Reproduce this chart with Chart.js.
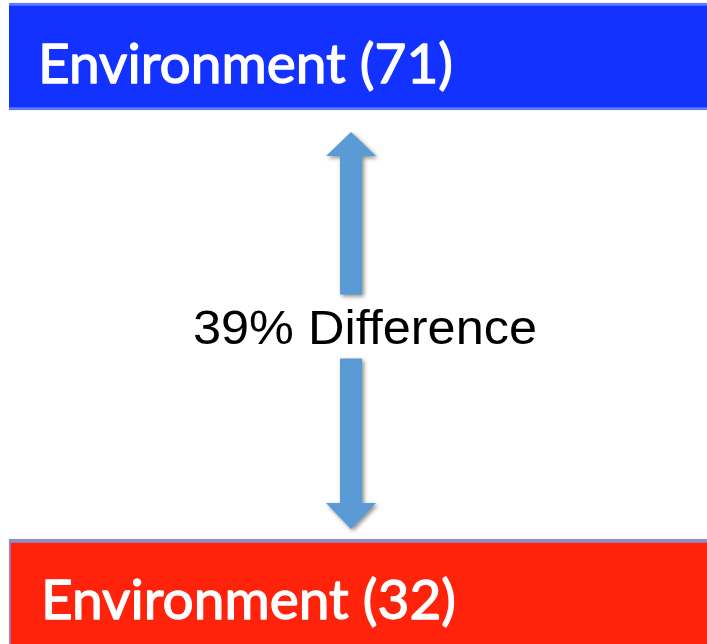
<!DOCTYPE html>
<html>
<head>
<meta charset="utf-8">
<script src="https://cdn.jsdelivr.net/npm/chart.js@4.4.1/dist/chart.umd.min.js"></script>
<style>
  html, body { margin: 0; padding: 0; background: #fff; }
  #wrap { width: 707px; height: 644px; }
</style>
</head>
<body>
<div id="wrap"><canvas id="myChart" width="707" height="644"></canvas></div>
<script>
// data
const categories = ['Environment', 'Environment'];
const scores = [71, 32];
const differenceLabel = '39% Difference';

// colours
const barColors = ['#1432FF', '#FF230C'];
const edgeColors = ['#5C7BFF', '#8E8FC6'];
const arrowColor = '#5B9BD5';

// rows: top bar, gap with the arrow, bottom bar
const rowLabels = [
  categories[0] + ' (' + scores[0] + ')',
  differenceLabel,
  categories[1] + ' (' + scores[1] + ')'
];

// white text inside each bar
const barLabels = {
  id: 'barLabels',
  afterDatasetsDraw(chart) {
    const ctx = chart.ctx;
    const meta = chart.getDatasetMeta(0);
    ctx.save();
    ctx.fillStyle = '#fff';
    ctx.strokeStyle = '#fff';
    ctx.lineWidth = 1.3;
    ctx.lineJoin = 'round';
    ctx.font = '55px Lato, "Open Sans", sans-serif';
    ctx.textBaseline = 'alphabetic';
    [0, 2].forEach(i => {
      const el = meta.data[i];
      const x = el.base + 29 + (i === 2 ? 3 : 0), y = el.y + 26;
      ctx.fillText(rowLabels[i], x, y);
      ctx.strokeText(rowLabels[i], x, y);
    });
    ctx.restore();
  }
};

// double arrow with the difference text in between
const differenceArrow = {
  id: 'differenceArrow',
  afterDatasetsDraw(chart) {
    const ctx = chart.ctx;
    const meta = chart.getDatasetMeta(0);
    const area = chart.chartArea;
    const top = meta.data[0], bot = meta.data[2];
    const topEdge = top.y + top.height / 2;
    const botEdge = bot.y - bot.height / 2;
    const midY = chart.scales.y.getPixelForValue(1);
    const cx = (area.left + area.right) / 2 - 7;
    const headW = 25, shaftW = 11;

    ctx.save();
    ctx.fillStyle = arrowColor;
    ctx.shadowColor = 'rgba(0,0,0,0.45)';
    ctx.shadowBlur = 4;
    ctx.shadowOffsetX = 2;
    ctx.shadowOffsetY = 2;

    // up arrow
    let tip = topEdge + 22, base = tip + 24, end = midY - 30;
    ctx.beginPath();
    ctx.moveTo(cx, tip);
    ctx.lineTo(cx + headW, base);
    ctx.lineTo(cx + shaftW, base);
    ctx.lineTo(cx + shaftW, end);
    ctx.lineTo(cx - shaftW, end);
    ctx.lineTo(cx - shaftW, base);
    ctx.lineTo(cx - headW, base);
    ctx.closePath();
    ctx.fill();

    // down arrow
    tip = botEdge - 10; base = tip - 26; end = midY + 34;
    ctx.beginPath();
    ctx.moveTo(cx, tip);
    ctx.lineTo(cx + headW, base);
    ctx.lineTo(cx + shaftW, base);
    ctx.lineTo(cx + shaftW, end);
    ctx.lineTo(cx - shaftW, end);
    ctx.lineTo(cx - shaftW, base);
    ctx.lineTo(cx - headW, base);
    ctx.closePath();
    ctx.fill();
    ctx.restore();

    // text
    ctx.save();
    ctx.fillStyle = '#000';
    ctx.font = '48px "Liberation Sans", Arial, sans-serif';
    ctx.textBaseline = 'alphabetic';
    ctx.textAlign = 'center';
    const w = ctx.measureText(differenceLabel).width;
    const sx = 344 / w;
    ctx.translate(cx + 14, midY + 19);
    ctx.scale(sx, 1);
    ctx.fillText(differenceLabel, 0, 0);
    ctx.restore();
  }
};

new Chart(document.getElementById('myChart').getContext('2d'), {
  type: 'bar',
  data: {
    labels: rowLabels,
    datasets: [{
      data: [[0, 1], null, [0, 1]],
      backgroundColor: [barColors[0], 'transparent', barColors[1]],
      borderColor: [edgeColors[0], 'transparent', edgeColors[1]],
      borderWidth: c => c.dataIndex === 0
        ? { top: 3, bottom: 3, left: 0, right: 0 }
        : { top: 4, left: 2, bottom: 0, right: 0 },
      borderSkipped: false,
      barThickness: 107,
      clip: false
    }]
  },
  options: {
    responsive: false,
    animation: false,
    indexAxis: 'y',
    layout: { padding: { left: 9, right: 0, top: 56.5, bottom: 51.5 } },
    scales: {
      x: { type: 'linear', min: 0, max: 1, display: false },
      y: { type: 'category', offset: false, display: false }
    },
    plugins: {
      legend: { display: false },
      tooltip: { enabled: false }
    }
  },
  plugins: [barLabels, differenceArrow]
});
</script>
</body>
</html>
